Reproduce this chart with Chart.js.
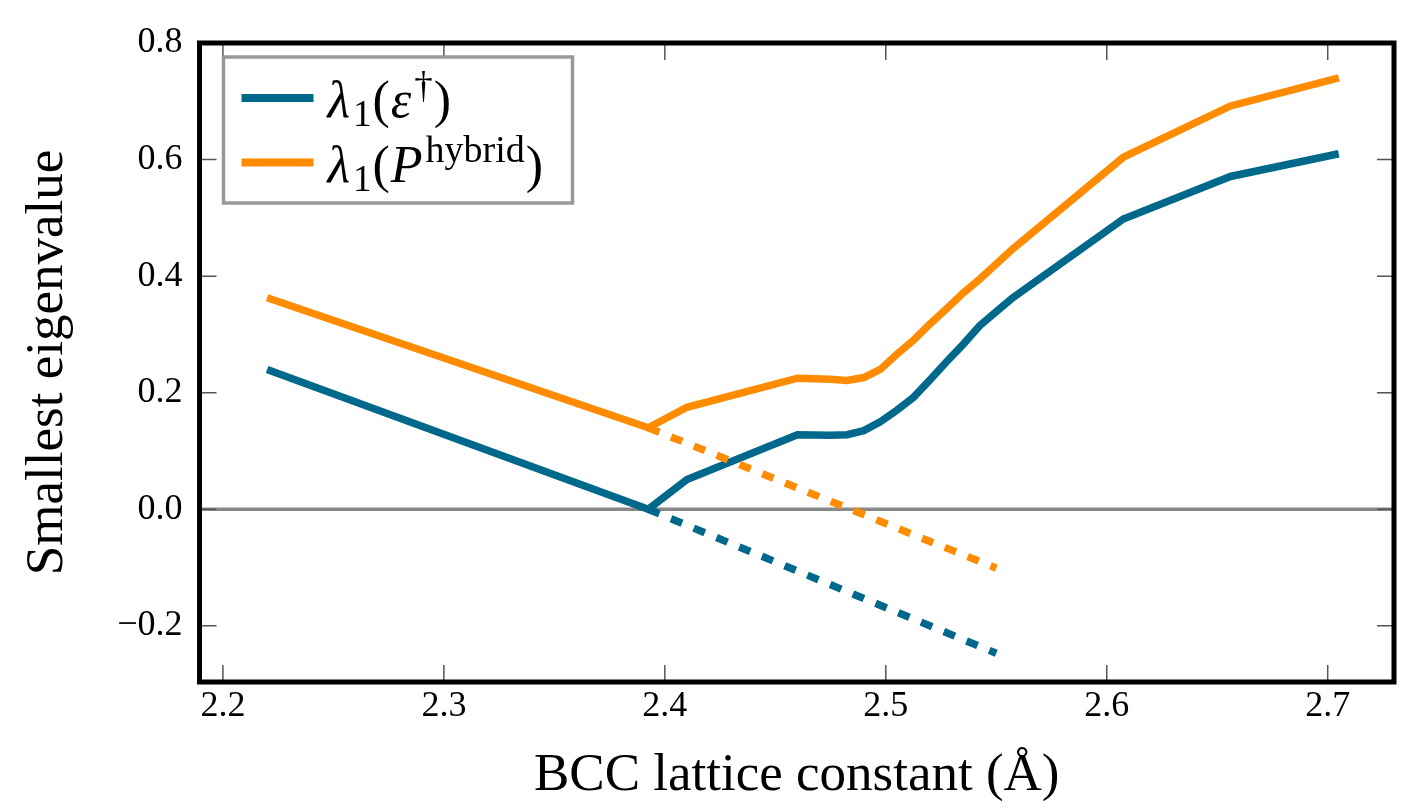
<!DOCTYPE html>
<html>
<head>
<meta charset="utf-8">
<title>Smallest eigenvalue</title>
<script src="https://cdn.jsdelivr.net/npm/chart.js@4.4.1/dist/chart.umd.min.js"></script>
<style>
  html, body { margin: 0; padding: 0; background: #fff; }
  #wrap { width: 1414px; height: 808px; }
</style>
</head>
<body>
<div id="wrap"><canvas id="grafico" width="1414" height="808"></canvas></div>
<script>
// valores
const latticeX = [2.22, 2.3925, 2.41, 2.46, 2.475, 2.4825, 2.49, 2.4975, 2.505, 2.5125, 2.52, 2.5275, 2.535, 2.5425, 2.55, 2.5575, 2.6075, 2.656, 2.705];
const lambdaEps = [0.240, 0.000, 0.051, 0.128, 0.127, 0.128, 0.135, 0.150, 0.170, 0.192, 0.222, 0.253, 0.283, 0.315, 0.339, 0.363, 0.498, 0.571, 0.610];
const lambdaHybrid = [0.363, 0.140, 0.175, 0.225, 0.223, 0.221, 0.226, 0.240, 0.266, 0.290, 0.318, 0.344, 0.371, 0.395, 0.421, 0.447, 0.604, 0.692, 0.740];

// extrapolação linear (tracejada)
const extrapX = [2.3925, 2.55];
const extrapEps = [0.000, -0.247];
const extrapHybrid = [0.140, -0.101];

const xTicks = [2.2, 2.3, 2.4, 2.5, 2.6, 2.7];
const yTicks = [-0.2, 0.0, 0.2, 0.4, 0.6, 0.8];

const azul = '#00688b';
const laranja = '#ff8c00';
const fonte = "'Liberation Serif', 'DejaVu Serif', serif";

const pontos = (xs, ys) => xs.map((x, i) => ({ x: x, y: ys[i] }));

// linha do zero, ticks para dentro, moldura e legenda
const molduraPlugin = {
    id: 'moldura',
    beforeDatasetsDraw(chart) {
        const { ctx, chartArea: a, scales: { x, y } } = chart;
        ctx.save();
        const y0 = y.getPixelForValue(0);
        ctx.strokeStyle = '#888';
        ctx.lineWidth = 3.5;
        ctx.beginPath();
        ctx.moveTo(a.left, y0);
        ctx.lineTo(a.right, y0);
        ctx.stroke();

        ctx.strokeStyle = '#555';
        ctx.lineWidth = 1.5;
        const tam = 17;
        ctx.beginPath();
        xTicks.forEach(v => {
            const px = x.getPixelForValue(v);
            ctx.moveTo(px, a.bottom); ctx.lineTo(px, a.bottom - tam);
            ctx.moveTo(px, a.top); ctx.lineTo(px, a.top + tam);
        });
        yTicks.forEach(v => {
            const py = y.getPixelForValue(v);
            ctx.moveTo(a.left, py); ctx.lineTo(a.left + tam, py);
            ctx.moveTo(a.right, py); ctx.lineTo(a.right - tam, py);
        });
        ctx.stroke();
        ctx.restore();
    },
    afterDatasetsDraw(chart) {
        const { ctx, chartArea: a } = chart;
        ctx.save();
        ctx.strokeStyle = '#000';
        ctx.lineWidth = 5;
        ctx.strokeRect(a.left, a.top, a.right - a.left, a.bottom - a.top);

        // legenda
        const lx = a.left + 24, ly = a.top + 14;
        ctx.fillStyle = '#fff';
        ctx.fillRect(lx, ly, 349, 146);
        ctx.strokeStyle = '#999';
        ctx.lineWidth = 3.5;
        ctx.strokeRect(lx, ly, 349, 146);

        const linhas = [
            { cor: azul, base: ly + 60, partes: [
                ['λ', 'italic 52px ' + fonte, 0],
                ['1', '37px ' + fonte, 9],
                ['(', '52px ' + fonte, 0],
                ['ε', 'italic 52px ' + fonte, 0],
                ['†', '37px ' + fonte, -19],
                [')', '52px ' + fonte, 0]
            ] },
            { cor: laranja, base: ly + 125, partes: [
                ['λ', 'italic 52px ' + fonte, 0],
                ['1', '37px ' + fonte, 9],
                ['(', '52px ' + fonte, 0],
                ['P', 'italic 52px ' + fonte, 0],
                ['hybrid', '38px ' + fonte, -20],
                [')', '52px ' + fonte, 0]
            ] }
        ];
        linhas.forEach((l, i) => {
            const yl = ly + 41 + i * 64.5;
            ctx.strokeStyle = l.cor;
            ctx.lineWidth = 8;
            ctx.beginPath();
            ctx.moveTo(lx + 18, yl);
            ctx.lineTo(lx + 90, yl);
            ctx.stroke();

            let cx = lx + 104;
            ctx.fillStyle = '#000';
            ctx.textBaseline = 'alphabetic';
            ctx.textAlign = 'left';
            l.partes.forEach(([t, f, dy]) => {
                ctx.font = f;
                ctx.fillText(t, cx, l.base + dy);
                cx += ctx.measureText(t).width + (f.startsWith('italic') ? 3 : 1);
            });
        });
        ctx.restore();
    }
};

const ctx = document.getElementById('grafico').getContext('2d');
const grafico = new Chart(ctx, {
    type: 'line',
    data: {
        datasets: [
            {
                label: 'λ1(ε†)',
                data: pontos(latticeX, lambdaEps),
                borderColor: azul,
                borderWidth: 7.5,
                pointRadius: 0,
                tension: 0,
                order: 3
            },
            {
                label: 'λ1(P hybrid)',
                data: pontos(latticeX, lambdaHybrid),
                borderColor: laranja,
                borderWidth: 7.5,
                pointRadius: 0,
                tension: 0,
                order: 2
            },
            {
                label: 'extrapolação ε',
                data: pontos(extrapX, extrapEps),
                borderColor: azul,
                borderWidth: 7.5,
                borderDash: [12, 12.6],
                borderCapStyle: 'butt',
                pointRadius: 0,
                order: 1
            },
            {
                label: 'extrapolação hybrid',
                data: pontos(extrapX, extrapHybrid),
                borderColor: laranja,
                borderWidth: 7.5,
                borderDash: [12, 12.6],
                borderCapStyle: 'butt',
                pointRadius: 0,
                order: 0
            }
        ]
    },
    options: {
        responsive: false,
        animation: false,
        layout: { padding: { left: 0, top: 43, right: 20, bottom: 0 } },
        plugins: {
            legend: { display: false },
            tooltip: { enabled: false }
        },
        scales: {
            x: {
                type: 'linear',
                min: 2.1894,
                max: 2.73,
                grid: { display: false, drawTicks: false },
                border: { display: false },
                afterBuildTicks: s => { s.ticks = xTicks.map(v => ({ value: v })); },
                afterFit: s => { s.height = 126; },
                ticks: {
                    color: '#000',
                    padding: 3,
                    font: { family: fonte, size: 36 },
                    callback: v => v.toFixed(1)
                },
                title: {
                    display: true,
                    text: 'BCC lattice constant (Å)',
                    color: '#000',
                    font: { family: fonte, size: 53 },
                    padding: { top: 0, bottom: 0 }
                }
            },
            y: {
                min: -0.2963,
                max: 0.8,
                grid: { display: false, drawTicks: false },
                border: { display: false },
                afterBuildTicks: s => { s.ticks = yTicks.map(v => ({ value: v })); },
                afterFit: s => { s.width = 199.5; },
                ticks: {
                    color: '#000',
                    padding: 17,
                    font: { family: fonte, size: 36 },
                    callback: v => v.toFixed(1).replace('-', '\u2212')
                },
                title: {
                    display: true,
                    text: 'Smallest eigenvalue',
                    color: '#000',
                    font: { family: fonte, size: 53 },
                    padding: { top: 16, bottom: 0 }
                }
            }
        }
    },
    plugins: [molduraPlugin]
});
</script>
</body>
</html>
